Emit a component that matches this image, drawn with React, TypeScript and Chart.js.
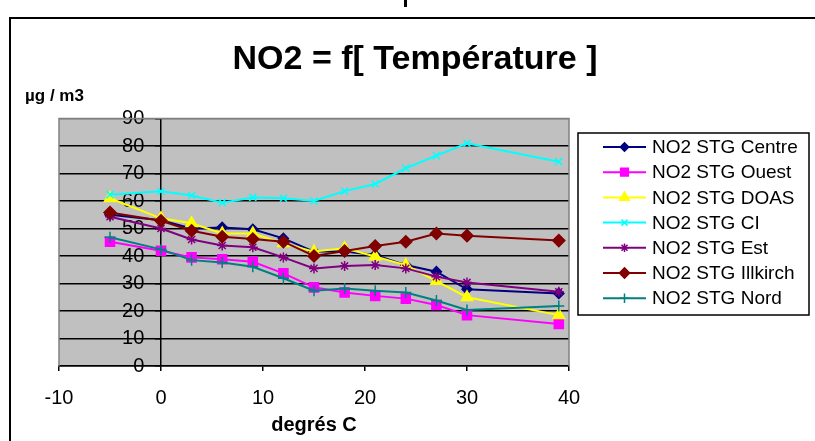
import React, { useEffect, useRef } from "react";
import { Chart, registerables } from "chart.js";
import { drawPoint } from "chart.js/helpers";

Chart.register(...registerables);

const temps = [-5, 0, 3, 6, 9, 12, 15, 18, 21, 24, 27, 30, 39];
const centre = [55, 53, 50, 50.4, 49.7, 46.4, 41.6, 41.6, 40.4, 36.7, 34.3, 27.9, 26.4];
const ouest = [45.2, 41.9, 39.5, 38.8, 37.9, 33.7, 28.6, 26.7, 25.5, 24.5, 22.2, 18.5, 15.3];
const doas = [61, 53.7, 51.9, 48.2, 48.2, 44.6, 41.6, 42.8, 39.8, 36.7, 30.9, 25, 18.5];
const ci = [62.3, 63.5, 62, 59.4, 61.3, 61, 60, 63.6, 66.2, 71.9, 76.5, 81, 74.3];
const est = [54.3, 50, 46, 43.8, 43.2, 39.5, 35.5, 36.4, 36.7, 35.5, 32.5, 30.4, 27];
const illkirch = [55.8, 52.8, 49.2, 47, 46.2, 45.2, 40, 41.8, 43.6, 45.2, 48.2, 47.4, 45.6];
const nord = [46.8, 42.4, 38.5, 37.6, 36.1, 31.9, 27.4, 28.2, 27.4, 26.7, 23.8, 20.4, 21.8];

const seriesNames = [
  "NO2 STG Centre",
  "NO2 STG Ouest",
  "NO2 STG DOAS",
  "NO2 STG CI",
  "NO2 STG Est",
  "NO2 STG Illkirch",
  "NO2 STG Nord",
];
const seriesValues = [centre, ouest, doas, ci, est, illkirch, nord];
const seriesColors = ["#000080", "#FF00FF", "#FFFF00", "#00FFFF", "#800080", "#800000", "#008080"];
const seriesStyles = ["rectRot", "rect", "triangle", "crossRot", "star", "rectRot", "cross"];
const seriesRadius = [5, 6.4, 6.5, 5, 5, 6, 5.5];

const titleText = "NO2 = f[ Température ]";
const yUnit = "µg / m3";
const xTitle = "degrés C";

const FONT = "'Liberation Sans', Arial, sans-serif";

const decor = {
  id: "decor",
  beforeDraw(chart: any) {
    const { ctx, chartArea, width, height } = chart;
    ctx.save();
    ctx.fillStyle = "#ffffff";
    ctx.fillRect(0, 0, width, height);
    ctx.fillStyle = "#C0C0C0";
    ctx.fillRect(chartArea.left, chartArea.top, chartArea.right - chartArea.left, chartArea.bottom - chartArea.top);
    // outer frame
    ctx.strokeStyle = "#000";
    ctx.lineWidth = 2;
    ctx.strokeRect(10, 18, 900, 600);
    ctx.fillStyle = "#000";
    ctx.fillRect(404, 0, 3, 7);
    ctx.restore();
  },
  beforeDatasetsDraw(chart: any) {
    const { ctx, chartArea } = chart;
    ctx.save();
    ctx.strokeStyle = "#808080";
    ctx.lineWidth = 1.5;
    ctx.beginPath();
    ctx.moveTo(chartArea.left, chartArea.bottom);
    ctx.lineTo(chartArea.left, chartArea.top);
    ctx.lineTo(chartArea.right, chartArea.top);
    ctx.lineTo(chartArea.right, chartArea.bottom);
    ctx.stroke();
    ctx.restore();
  },
  afterDraw(chart: any) {
    const { ctx } = chart;
    ctx.save();
    // title
    ctx.fillStyle = "#000";
    ctx.font = `bold 34px ${FONT}`;
    ctx.textBaseline = "middle";
    ctx.textAlign = "center";
    ctx.fillText(titleText, 415, 60);
    // unit label
    ctx.font = `bold 17px ${FONT}`;
    ctx.textAlign = "left";
    ctx.fillText(yUnit, 25, 96);
    // legend
    const lx = 578, ly = 133, lw = 231, lh = 182;
    ctx.fillStyle = "#fff";
    ctx.fillRect(lx, ly, lw, lh);
    ctx.strokeStyle = "#000";
    ctx.lineWidth = 1.5;
    ctx.strokeRect(lx, ly, lw, lh);
    chart.data.datasets.forEach((ds: any, i: number) => {
      const y = 147 + i * 25.2;
      ctx.strokeStyle = ds.borderColor;
      ctx.lineWidth = 2;
      ctx.beginPath();
      ctx.moveTo(603, y);
      ctx.lineTo(646, y);
      ctx.stroke();
      ctx.fillStyle = ds.pointBackgroundColor;
      ctx.strokeStyle = ds.pointBorderColor;
      ctx.lineWidth = ds.pointBorderWidth;
      drawPoint(ctx, { pointStyle: ds.pointStyle, radius: ds.pointRadius * 0.85, rotation: 0, borderWidth: ds.pointBorderWidth }, 624.5, y);
      ctx.fillStyle = "#000";
      ctx.font = `19px ${FONT}`;
      ctx.textBaseline = "middle";
      ctx.textAlign = "left";
      ctx.fillText(ds.label, 652, y + 1);
    });
    ctx.restore();
  },
};

export default function App() {
  const ref = useRef<HTMLCanvasElement>(null);
  useEffect(() => {
    if (!ref.current) return;
    Chart.defaults.font.family = FONT;
    const datasets = seriesNames.map((name, i) => ({
      label: name,
      data: temps.map((t, j) => ({ x: t, y: seriesValues[i][j] })),
      showLine: true,
      borderColor: seriesColors[i],
      backgroundColor: seriesColors[i],
      pointBackgroundColor: seriesColors[i],
      pointBorderColor: seriesColors[i],
      pointBorderWidth: 1.5,
      pointStyle: seriesStyles[i],
      pointRadius: seriesRadius[i],
      borderWidth: 2,
      tension: 0,
      order: seriesNames.length - i,
    }));
    const chart = new Chart(ref.current, {
      type: "scatter",
      data: { datasets },
      plugins: [decor],
      options: {
        animation: false,
        responsive: false,
        devicePixelRatio: 1,
        layout: { padding: { left: 59, right: 246, top: 118.5, bottom: 0 } },
        plugins: {
          legend: { display: false },
          tooltip: { enabled: false },
          title: { display: false },
        },
        scales: {
          x: {
            type: "linear",
            position: "bottom",
            min: -10,
            max: 40,
            afterFit: (s: any) => {
              s.height = 75;
            },
            ticks: { stepSize: 10, color: "#000", font: { size: 20 }, padding: 15 },
            grid: { drawOnChartArea: false, drawTicks: true, tickLength: 5, color: "#000", lineWidth: 1.5 },
            border: { display: true, color: "#000", width: 1.5 },
            title: {
              display: true,
              text: xTitle,
              color: "#000",
              font: { size: 20, weight: "bold" },
              padding: { top: 3, bottom: 4 },
            },
          },
          y: {
            type: "linear",
            position: { x: 0 },
            min: 0,
            max: 90,
            ticks: {
              stepSize: 10,
              color: "#000",
              font: { size: 20 },
              callback: (v: any) => `${v}   `,
            },
            grid: {
              color: (c: any) => (c.tick && c.tick.value === 90 ? "#808080" : "#000"),
              lineWidth: 1.5,
              tickLength: 5,
              tickColor: "#000",
            },
            border: { display: true, color: "#000", width: 1.5 },
          },
        },
      } as any,
    });
    return () => chart.destroy();
  }, []);
  return (
    <div style={{ position: "fixed", left: 0, top: 0, width: 815, height: 441 }}>
      <canvas ref={ref} width={815} height={441} style={{ width: 815, height: 441 }} />
    </div>
  );
}
